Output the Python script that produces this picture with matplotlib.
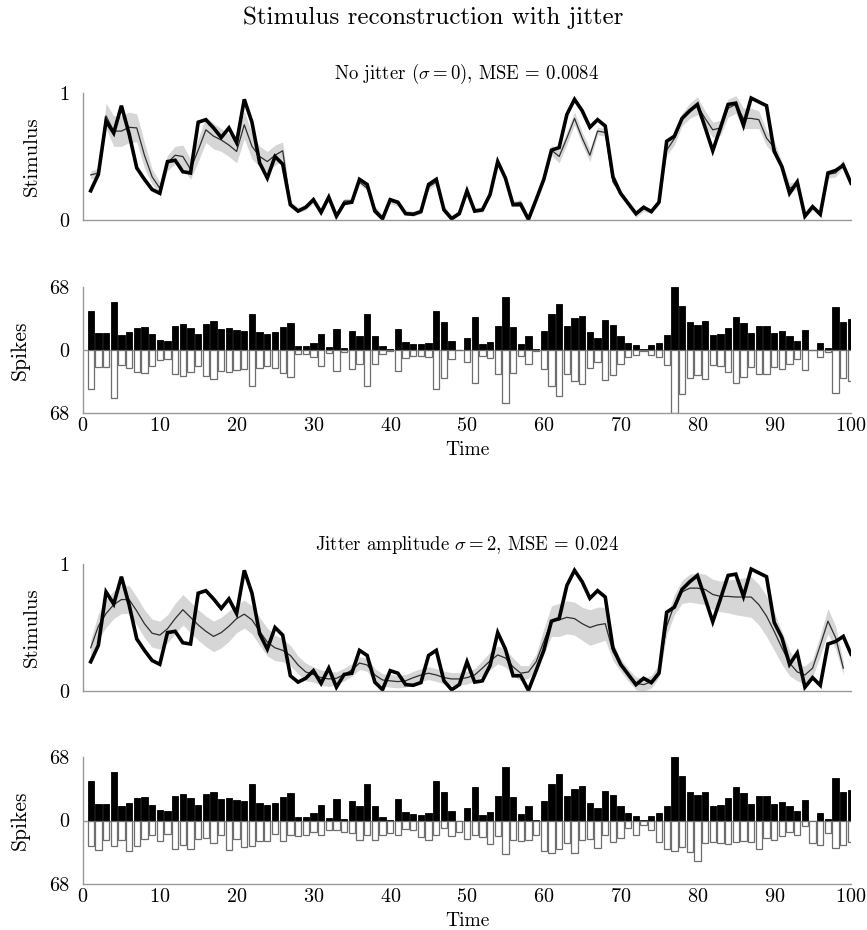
import numpy as np
import matplotlib
matplotlib.use("Agg")
import matplotlib.pyplot as plt

# Computer Modern look
plt.rcParams['font.family'] = 'serif'
plt.rcParams['font.serif'] = ['cmr10']
plt.rcParams['mathtext.fontset'] = 'cm'
plt.rcParams['axes.formatter.use_mathtext'] = True

time = np.arange(1, 101)

# true stimulus (thick line), same in both panels
stimulus = [
    0.23, 0.36, 0.78, 0.685, 0.90, 0.68, 0.41, 0.32, 0.24, 0.21,
    0.46, 0.47, 0.38, 0.37, 0.77, 0.79, 0.725, 0.65, 0.725, 0.61,
    0.95, 0.77, 0.45, 0.33, 0.50, 0.44, 0.12, 0.07, 0.10, 0.16,
    0.06, 0.18, 0.03, 0.13, 0.14, 0.32, 0.28, 0.07, 0.01, 0.16,
    0.14, 0.05, 0.045, 0.066, 0.28, 0.32, 0.08, 0.01, 0.05, 0.23,
    0.07, 0.08, 0.20, 0.46, 0.33, 0.12, 0.12, 0.005, 0.16, 0.32,
    0.55, 0.57, 0.83, 0.95, 0.86, 0.73, 0.79, 0.74, 0.34, 0.21,
    0.13, 0.05, 0.10, 0.066, 0.14, 0.62, 0.66, 0.80, 0.86, 0.91,
    0.73, 0.545, 0.725, 0.91, 0.92, 0.745, 0.96, 0.93, 0.90, 0.54,
    0.42, 0.21, 0.30, 0.03, 0.105, 0.045, 0.37, 0.39, 0.43, 0.29,
]

# spike counts per time bin (black bars, also the white bars without jitter)
spikes = [
    42, 18, 18, 52, 16, 19, 24, 25, 17, 11,
    10, 26, 28, 24, 17, 28, 31, 23, 24, 22,
    21, 39, 19, 17, 19, 25, 29, 4, 4, 8,
    17, 3, 23, 2, 21, 15, 39, 15, 4, 1,
    23, 9, 7, 6, 8, 42, 30, 10, 0, 13,
    36, 6, 9, 26, 57, 25, 7, 15, 1, 21,
    39, 50, 26, 34, 37, 19, 13, 32, 27, 15,
    8, 5, 1, 5, 8, 16, 68, 48, 30, 27,
    31, 16, 17, 24, 36, 29, 18, 26, 26, 18,
    20, 15, 10, 22, 0, 8, 2, 46, 30, 33,
]

# spike counts after jitter with sigma = 2 (white bars, lower panel)
spikes_jitter = [
    27, 32, 21, 27, 21, 33, 27, 20, 15, 22,
    14, 31, 26, 30, 20, 19, 24, 16, 32, 20,
    28, 27, 22, 22, 14, 22, 15, 17, 15, 12,
    15, 10, 10, 12, 13, 21, 16, 21, 16, 13,
    15, 9, 10, 18, 21, 15, 8, 17, 12, 20,
    16, 18, 25, 17, 36, 21, 22, 21, 15, 33,
    35, 31, 24, 35, 21, 20, 29, 16, 23, 19,
    8, 15, 5, 10, 23, 30, 33, 28, 34, 43,
    24, 23, 24, 25, 23, 22, 23, 31, 19, 21,
    17, 12, 15, 6, 24, 26, 13, 29, 26, 23,
]

# reconstructions (thin line) and their spread (grey band half width)
recon_nojit = [
    0.355, 0.37, 0.82, 0.70, 0.70, 0.73, 0.725, 0.51, 0.34, 0.25,
    0.45, 0.51, 0.50, 0.40, 0.55, 0.71, 0.66, 0.63, 0.59, 0.54,
    0.75, 0.58, 0.50, 0.46, 0.51, 0.545, 0.13, 0.08, 0.10, 0.15,
    0.07, 0.17, 0.04, 0.15, 0.15, 0.30, 0.25, 0.09, 0.02, 0.15,
    0.13, 0.06, 0.05, 0.07, 0.26, 0.30, 0.09, 0.02, 0.06, 0.22,
    0.08, 0.08, 0.21, 0.45, 0.33, 0.13, 0.14, 0.02, 0.16, 0.33,
    0.55, 0.50, 0.645, 0.80, 0.645, 0.51, 0.70, 0.69, 0.30, 0.21,
    0.12, 0.04, 0.09, 0.07, 0.14, 0.55, 0.64, 0.79, 0.86, 0.90,
    0.80, 0.71, 0.725, 0.88, 0.91, 0.80, 0.80, 0.79, 0.645, 0.57,
    0.42, 0.25, 0.28, 0.04, 0.10, 0.05, 0.36, 0.37, 0.45,
]
band_nojit = [
    0.03, 0.04, 0.10, 0.12, 0.12, 0.12, 0.11, 0.10, 0.06, 0.05,
    0.06, 0.07, 0.09, 0.08, 0.09, 0.10, 0.10, 0.09, 0.09, 0.09,
    0.11, 0.10, 0.08, 0.08, 0.08, 0.07, 0.02, 0.02, 0.02, 0.02,
    0.02, 0.02, 0.02, 0.02, 0.02, 0.02, 0.02, 0.02, 0.02, 0.02,
    0.02, 0.02, 0.02, 0.02, 0.02, 0.02, 0.02, 0.02, 0.02, 0.02,
    0.02, 0.02, 0.02, 0.02, 0.02, 0.02, 0.02, 0.02, 0.02, 0.03,
    0.04, 0.05, 0.05, 0.05, 0.05, 0.05, 0.03, 0.03, 0.02, 0.02,
    0.02, 0.02, 0.02, 0.02, 0.02, 0.04, 0.05, 0.05, 0.06, 0.07,
    0.06, 0.06, 0.06, 0.07, 0.07, 0.08, 0.08, 0.07, 0.06, 0.05,
    0.04, 0.04, 0.03, 0.02, 0.02, 0.02, 0.03, 0.03, 0.03,
]
recon_jit = [
    0.34, 0.51, 0.61, 0.68, 0.72, 0.72, 0.63, 0.53, 0.455, 0.44,
    0.49, 0.57, 0.64, 0.58, 0.52, 0.47, 0.43, 0.46, 0.51, 0.57,
    0.605, 0.56, 0.47, 0.385, 0.34, 0.32, 0.28, 0.205, 0.15, 0.13,
    0.105, 0.095, 0.10, 0.13, 0.165, 0.22, 0.205, 0.126, 0.087, 0.08,
    0.074, 0.08, 0.105, 0.126, 0.14, 0.126, 0.105, 0.095, 0.095, 0.105,
    0.126, 0.18, 0.237, 0.284, 0.26, 0.19, 0.14, 0.15, 0.23, 0.39,
    0.55, 0.56, 0.58, 0.57, 0.53, 0.50, 0.52, 0.53, 0.31, 0.205,
    0.126, 0.06, 0.05, 0.074, 0.158, 0.51, 0.68, 0.78, 0.81, 0.81,
    0.80, 0.76, 0.745, 0.745, 0.74, 0.74, 0.74, 0.68, 0.59, 0.47,
    0.34, 0.22, 0.15, 0.126, 0.18, 0.36, 0.55, 0.42, 0.18,
]
band_jit = [
    0.06, 0.10, 0.11, 0.11, 0.11, 0.11, 0.11, 0.11, 0.11, 0.11,
    0.11, 0.12, 0.12, 0.12, 0.12, 0.12, 0.12, 0.12, 0.12, 0.11,
    0.11, 0.11, 0.11, 0.11, 0.10, 0.09, 0.08, 0.07, 0.07, 0.06,
    0.06, 0.06, 0.05, 0.05, 0.05, 0.05, 0.05, 0.05, 0.05, 0.05,
    0.05, 0.05, 0.05, 0.05, 0.05, 0.05, 0.05, 0.05, 0.05, 0.05,
    0.05, 0.06, 0.07, 0.07, 0.07, 0.07, 0.06, 0.05, 0.06, 0.10,
    0.12, 0.13, 0.13, 0.13, 0.13, 0.14, 0.14, 0.13, 0.07, 0.05,
    0.05, 0.05, 0.05, 0.05, 0.05, 0.07, 0.08, 0.09, 0.11, 0.12,
    0.12, 0.12, 0.12, 0.13, 0.14, 0.15, 0.16, 0.16, 0.16, 0.15,
    0.13, 0.10, 0.07, 0.07, 0.07, 0.08, 0.10, 0.09, 0.05,
]

titles = [r"No jitter ($\sigma = 0$), MSE = 0.0084",
          r"Jitter amplitude $\sigma = 2$, MSE = 0.024"]

SPINE = '#999999'
W, H = 867, 930


def rect(left, top, right, bottom):
    # pixel box -> figure fraction
    return [left / W, 1 - bottom / H, (right - left) / W, (bottom - top) / H]


def style(ax):
    for s in ['top', 'right']:
        ax.spines[s].set_visible(False)
    for s in ['left', 'bottom']:
        ax.spines[s].set_color(SPINE)
        ax.spines[s].set_linewidth(1.0)
    ax.tick_params(length=0, labelsize=14.5)
    ax.tick_params(axis='y', pad=10)
    ax.tick_params(axis='x', pad=3)
    ax.set_xlim(0, 100)


def stim_panel(box, recon, band, title):
    ax = fig.add_axes(rect(*box))
    style(ax)
    r = np.array(recon)
    b = np.array(band)
    tr = time[:len(r)]
    ax.fill_between(tr, r - b, r + b, color='#d6d6d6', lw=0)
    ax.plot(tr, r, color='#2e2e2e', lw=0.9)
    ax.plot(time, stimulus, color='black', lw=2.6, solid_joinstyle='miter')
    ax.set_ylim(0, 1)
    ax.set_yticks([0, 1], ['0', '1'])
    ax.set_xticks([])
    ax.set_ylabel('Stimulus', fontsize=15, labelpad=13)
    ax.set_title(title, fontsize=13.5, pad=10)
    return ax


def spike_panel(box, down):
    ax = fig.add_axes(rect(*box))
    style(ax)
    ax.axhline(0, color=SPINE, lw=1.0, zorder=1)
    ax.bar(time, spikes, width=0.82, color='black', edgecolor='black', lw=0.6, zorder=2)
    ax.bar(time, -np.array(down), width=0.82, color='white', edgecolor='#6e6e6e', lw=0.9, zorder=2)
    ax.set_ylim(-68, 68)
    ax.set_yticks([68, 0, -68], ['68', '0', '68'])
    ax.set_xticks(range(0, 101, 10))
    ax.set_ylabel('Spikes', fontsize=15.5, labelpad=14)
    ax.set_xlabel('Time', fontsize=14, labelpad=4)
    return ax


fig = plt.figure(figsize=(W / 100, H / 100), dpi=100)
fig.text(0.5, 1 - 18 / H, 'Stimulus reconstruction with jitter', ha='center', va='center', fontsize=18)

stim_panel((83, 93, 851, 220), recon_nojit, band_nojit, titles[0])
spike_panel((83, 287, 851, 413), spikes)
stim_panel((83, 564, 851, 691), recon_jit, band_jit, titles[1])
spike_panel((83, 757, 851, 884), spikes_jitter)

fig.savefig('out.png', dpi=100)
